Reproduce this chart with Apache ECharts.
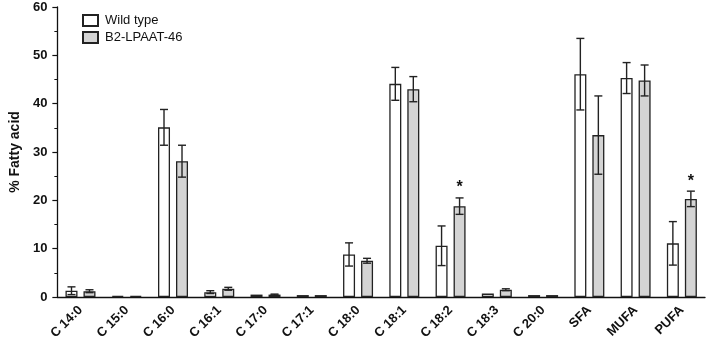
<!DOCTYPE html>
<html>
<head>
<meta charset="utf-8">
<script src="https://cdn.jsdelivr.net/npm/echarts@6/dist/echarts.min.js"></script>
<style>
html,body{margin:0;padding:0;background:#fff;}
#c{width:709px;height:345px;}
</style>
</head>
<body>
<div id="c"></div>
<script>
const categories = ['C 14:0','C 15:0','C 16:0','C 16:1','C 17:0','C 17:1','C 18:0','C 18:1','C 18:2','C 18:3','C 20:0','SFA','MUFA','PUFA'];
const wildType = [1.3,0.2,35.1,1.0,0.5,0.4,8.8,44.1,10.6,0.7,0.4,46.1,45.3,11.1];
const wildTypeErr = [0.8,0,3.7,0.3,0,0,2.4,3.4,4.1,0,0,7.4,3.2,4.5];
const mutant = [1.2,0.2,28.1,1.7,0.5,0.4,7.5,43.0,18.8,1.5,0.4,33.5,44.8,20.3];
const mutantErr = [0.3,0,3.3,0.3,0.1,0,0.5,2.6,1.7,0.2,0,8.1,3.2,1.6];
const mutantSig = [0,0,0,0,0,0,0,0,1,0,0,0,0,1];
const yTicks = [0,10,20,30,40,50,60];

const FONT = 'Liberation Sans, Arial, sans-serif';
const BAR_W = 12, BAR_GAP = 6, CAP = 8;

function errRender(offset, withSig) {
  return function (params, api) {
    const i = api.value(0), v = api.value(1), e = api.value(2), s = api.value(3);
    const hi = api.coord([i, v + e]);
    const lo = api.coord([i, v - e]);
    const x = hi[0] + offset;
    const st = { stroke: '#222', lineWidth: 1.4 };
    const children = [];
    if (e > 0) {
      children.push({ type: 'line', shape: { x1: x, y1: hi[1], x2: x, y2: lo[1] }, style: st });
      children.push({ type: 'line', shape: { x1: x - CAP / 2, y1: hi[1], x2: x + CAP / 2, y2: hi[1] }, style: st });
      children.push({ type: 'line', shape: { x1: x - CAP / 2, y1: lo[1], x2: x + CAP / 2, y2: lo[1] }, style: st });
    }
    if (withSig && s) {
      children.push({ type: 'text', x: x, y: hi[1] - 2, style: { text: '*', fill: '#111', font: 'bold 16px ' + FONT, textAlign: 'center', textVerticalAlign: 'bottom' } });
    }
    return { type: 'group', children: children };
  };
}

const chart = echarts.init(document.getElementById('c'), null, { renderer: 'canvas' });
chart.setOption({
  animation: false,
  backgroundColor: '#fff',
  grid: { left: 52, right: 4, top: 7, bottom: 48, containLabel: false },
  legend: {
    orient: 'vertical', left: 77, top: 9, itemWidth: 15, itemHeight: 11, itemGap: 4,
    icon: 'rect',
    textStyle: { fontFamily: FONT, fontSize: 13, color: '#111', padding: [0, 0, 0, 2] },
    data: ['Wild type', 'B2-LPAAT-46']
  },
  xAxis: {
    type: 'category', data: categories,
    axisLine: { lineStyle: { color: '#111', width: 1.3 } },
    axisTick: { show: false },
    axisLabel: { rotate: 45, interval: 0, fontFamily: FONT, fontWeight: 'bold', fontSize: 13, color: '#111', margin: 11 }
  },
  yAxis: {
    type: 'value', min: yTicks[0], max: yTicks[yTicks.length - 1], interval: 10,
    name: '% Fatty acid', nameLocation: 'middle', nameGap: 32,
    nameTextStyle: { fontFamily: FONT, fontWeight: 'bold', fontSize: 14, color: '#111' },
    axisLine: { show: true, lineStyle: { color: '#111', width: 1.3 } },
    axisTick: { show: true, length: 5, lineStyle: { color: '#111', width: 1.2 } },
    minorTick: { show: true, splitNumber: 2, length: 3, lineStyle: { color: '#111', width: 1 } },
    splitLine: { show: false },
    axisLabel: { fontFamily: FONT, fontWeight: 'bold', fontSize: 13, color: '#111', margin: 10 }
  },
  series: [
    { name: 'Wild type', type: 'bar', data: wildType, barWidth: BAR_W, barGap: (BAR_GAP / BAR_W * 100) + '%',
      itemStyle: { color: '#ffffff', borderColor: '#222', borderWidth: 1.3 } },
    { name: 'B2-LPAAT-46', type: 'bar', data: mutant, barWidth: BAR_W,
      itemStyle: { color: '#d4d4d4', borderColor: '#222', borderWidth: 1.3 } },
    { type: 'custom', renderItem: errRender(-(BAR_W + BAR_GAP) / 2, false), z: 5,
      data: wildType.map((v, i) => [i, v, wildTypeErr[i], 0]) },
    { type: 'custom', renderItem: errRender((BAR_W + BAR_GAP) / 2, true), z: 5,
      data: mutant.map((v, i) => [i, v, mutantErr[i], mutantSig[i]]) }
  ]
});
</script>
</body>
</html>
